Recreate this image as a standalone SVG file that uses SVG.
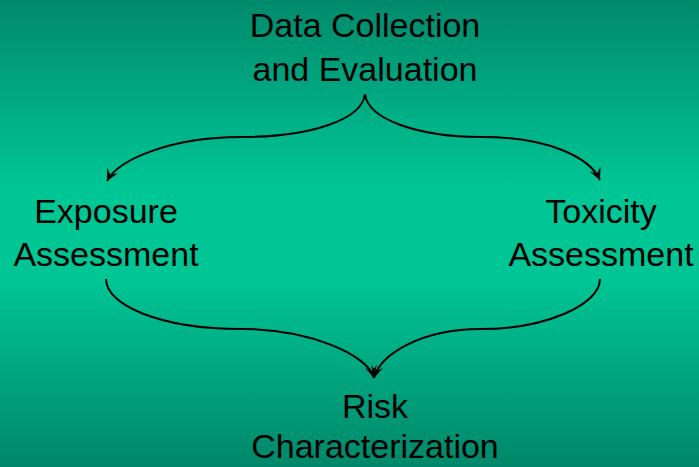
<svg xmlns="http://www.w3.org/2000/svg" width="699" height="467" viewBox="0 0 699 467">
<defs>
<linearGradient id="bg" x1="0" y1="0" x2="0" y2="1">
<stop offset="0" stop-color="#008a6c"/>
<stop offset="0.4" stop-color="#00c594"/>
<stop offset="0.6" stop-color="#00c594"/>
<stop offset="1" stop-color="#00876a"/>
</linearGradient>
<marker id="arr" viewBox="0 0 14 14" refX="12" refY="7" markerWidth="14" markerHeight="14" markerUnits="userSpaceOnUse" orient="auto">
<path d="M0,1 L12,7 L0,13 L5,7 Z" fill="#000"/>
</marker>
<style>
text{font-family:"Liberation Sans",Arial,sans-serif;font-size:34px;fill:#000;text-anchor:middle}
.c{fill:none;stroke:#000;stroke-width:2}
</style>
</defs>
<rect width="699" height="467" fill="url(#bg)"/>
<g id="connectors">
<path class="c" d="M365,94 C362,120 310,137 241,137 C170,137 118,160 107,181" marker-end="url(#arr)"/>
<path class="c" d="M365,94 C368,120 420,137 481,137 C550,137 590,158 600,180" marker-end="url(#arr)"/>
<path class="c" d="M106,279 C106,305 160,329 241,329 C310,329 368,355 374,378" marker-end="url(#arr)"/>
<path class="c" d="M600,279 C600,305 545,329 481,329 C420,329 380,355 374,378" marker-end="url(#arr)"/>
</g>
<g id="data"><text x="365" y="37">Data Collection</text><text x="365" y="81">and Evaluation</text></g>
<g id="exposure"><text x="106" y="223">Exposure</text><text x="106" y="266">Assessment</text></g>
<g id="toxicity"><text x="601" y="223">Toxicity</text><text x="601" y="266">Assessment</text></g>
<g id="risk"><text x="375" y="418">Risk</text><text x="375" y="458">Characterization</text></g>
</svg>
